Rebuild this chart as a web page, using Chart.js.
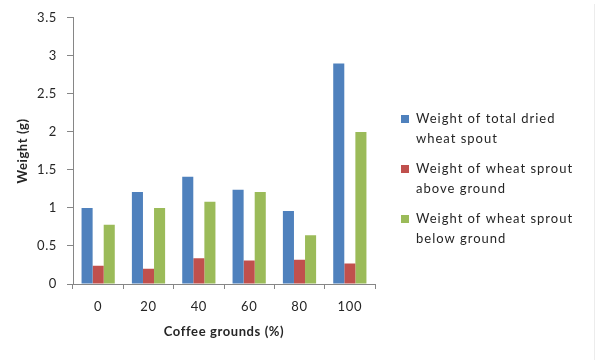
<!DOCTYPE html>
<html>
<head>
<meta charset="utf-8">
<script src="https://cdn.jsdelivr.net/npm/chart.js@4/dist/chart.umd.min.js"></script>
<style>
  html, body { margin: 0; padding: 0; background: #fff; }
  #wrap { position: relative; width: 598px; height: 360px; }
</style>
</head>
<body>
<div id="wrap"><canvas id="c" width="598" height="360"></canvas></div>
<script>
// Coffee grounds share in the growing medium (%)
const categories = ['0', '20', '40', '60', '80', '100'];

// Dry weights in grams
const totalDried  = [1.00, 1.21, 1.41, 1.24, 0.96, 2.90];
const aboveGround = [0.24, 0.20, 0.34, 0.31, 0.32, 0.27];
const belowGround = [0.78, 1.00, 1.08, 1.21, 0.64, 2.00];

// Legend text, one entry per series, split into its two lines
const seriesNames = [
  ['Weight of total dried', 'wheat spout'],
  ['Weight of wheat sprout', 'above ground'],
  ['Weight of wheat sprout', 'below ground']
];

const yTicks = [0, 0.5, 1, 1.5, 2, 2.5, 3, 3.5];

const FONT = 'Lato, "Open Sans", sans-serif';
const AXIS = '#868686';
const TEXT = '#262626';

// Slightly open letter spacing for all canvas text
const textSpacing = {
  id: 'textSpacing',
  afterInit(chart) { chart.ctx.letterSpacing = '0.6px'; }
};

// Legend drawn to the right of the plot, each label on two lines
const sideLegend = {
  id: 'sideLegend',
  afterDraw(chart) {
    const ctx = chart.ctx;
    const x0 = 401, y0 = 119, itemGap = 50, lineGap = 20;
    ctx.save();
    ctx.font = '13px ' + FONT;
    ctx.letterSpacing = '1px';
    ctx.textBaseline = 'middle';
    ctx.textAlign = 'left';
    chart.data.datasets.forEach((ds, i) => {
      const y = y0 + i * itemGap;
      ctx.fillStyle = ds.backgroundColor;
      ctx.fillRect(x0, y - 4, 8, 8);
      ctx.fillStyle = TEXT;
      ds.label.forEach((line, j) => ctx.fillText(line, x0 + 15, y + j * lineGap));
    });
    // faint frame edge on the right
    ctx.strokeStyle = '#ececec';
    ctx.lineWidth = 1;
    ctx.beginPath();
    ctx.moveTo(594.5, 4);
    ctx.lineTo(594.5, 360);
    ctx.stroke();
    ctx.restore();
  }
};

new Chart(document.getElementById('c'), {
  type: 'bar',
  data: {
    labels: categories,
    datasets: [
      { label: seriesNames[0], data: totalDried,  backgroundColor: '#4F81BD' },
      { label: seriesNames[1], data: aboveGround, backgroundColor: '#C0504D' },
      { label: seriesNames[2], data: belowGround, backgroundColor: '#9BBB59' }
    ]
  },
  options: {
    responsive: false,
    animation: false,
    devicePixelRatio: 1,
    layout: { padding: { left: 0, right: 223, top: 16, bottom: 0 } },
    datasets: { bar: { categoryPercentage: 0.66, barPercentage: 1.0 } },
    plugins: {
      legend: { display: false },
      tooltip: { enabled: false }
    },
    scales: {
      x: {
        grid: { display: true, drawOnChartArea: false, drawTicks: true, tickLength: 5, color: AXIS, offset: true },
        border: { display: true, color: AXIS, width: 1 },
        ticks: { color: TEXT, font: { family: FONT, size: 13 }, padding: 10 },
        title: { display: true, text: 'Coffee grounds (%)', color: TEXT,
                 font: { family: FONT, size: 13, weight: 'bold' }, padding: { top: 4, bottom: 20 } },
        afterFit(scale) { scale.height = 76; }
      },
      y: {
        min: 0, max: 3.5,
        afterBuildTicks(scale) { scale.ticks = yTicks.map(v => ({ value: v })); },
        grid: { display: true, drawOnChartArea: false, drawTicks: true, tickLength: 6, color: AXIS },
        border: { display: true, color: AXIS, width: 1 },
        ticks: { color: TEXT, font: { family: FONT, size: 13 }, padding: 10,
                 callback: v => String(v) },
        title: { display: true, text: 'Weight (g)', color: TEXT,
                 font: { family: FONT, size: 13, weight: 'bold' }, padding: { top: 15, bottom: 0 } },
        afterFit(scale) { scale.width = 73; }
      }
    }
  },
  plugins: [textSpacing, sideLegend]
});
</script>
</body>
</html>
